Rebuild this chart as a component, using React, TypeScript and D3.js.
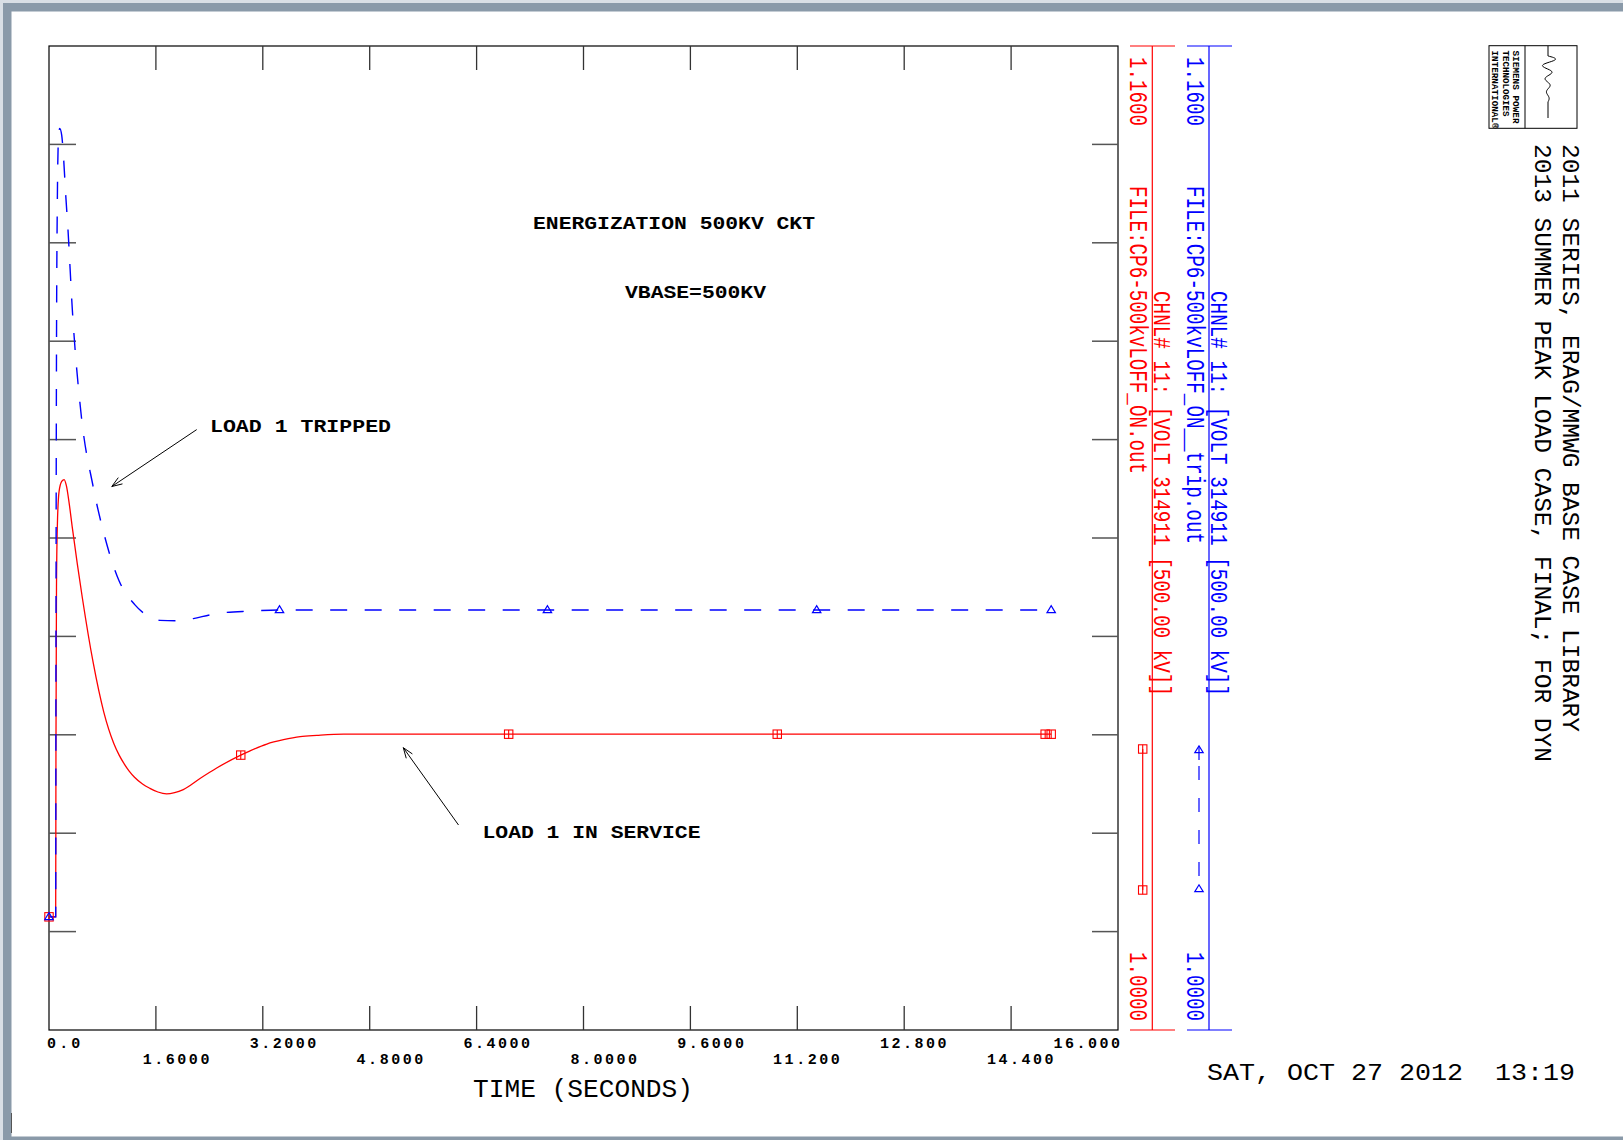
import React from "react";
import * as d3 from "d3";

// ---- data (time in seconds, voltage in pu) ----
const TIME_SERVICE = [0, 0.1, 0.104, 0.112, 0.125, 0.15, 0.19, 0.227, 0.26, 0.3, 0.35, 0.5, 0.66, 0.82, 0.97, 1.05, 1.13, 1.2, 1.28, 1.4, 1.51, 1.63, 1.76, 1.88, 2.01, 2.26, 2.51, 2.87, 3.01, 3.26, 3.51, 3.76, 4.01, 4.41, 5.0, 15.0];
const VOLT_SERVICE = [1.0184, 1.0184, 1.045, 1.072, 1.082, 1.0875, 1.0892, 1.0895, 1.0885, 1.0858, 1.0816, 1.0702, 1.0598, 1.0517, 1.0466, 1.0447, 1.0432, 1.0421, 1.0411, 1.04, 1.0393, 1.0387, 1.0384, 1.0386, 1.0391, 1.0409, 1.0426, 1.0447, 1.0454, 1.0465, 1.0472, 1.0477, 1.0479, 1.0481, 1.0481, 1.0481];
const TIME_TRIPPED = [0, 0.1, 0.104, 0.112, 0.125, 0.14, 0.16, 0.19, 0.22, 0.25, 0.28, 0.35, 0.48, 0.66, 0.82, 1.05, 1.28, 1.5, 1.66, 1.89, 2.16, 2.41, 2.66, 3.0, 3.44, 4.0, 15.0];
const VOLT_TRIPPED = [1.0184, 1.0184, 1.06, 1.11, 1.135, 1.1445, 1.1466, 1.1455, 1.1415, 1.1358, 1.1309, 1.117, 1.1002, 1.0884, 1.0808, 1.073, 1.0692, 1.0672, 1.0666, 1.06655, 1.0669, 1.0675, 1.0679, 1.0681, 1.0683, 1.0683, 1.0683];
const MARK_T_SERVICE = [0, 2.87, 6.88, 10.9, 14.91, 15.0];
const MARK_T_TRIPPED = [0, 3.45, 7.46, 11.49, 15.0];

const X_TICKS = [0, 1.6, 3.2, 4.8, 6.4, 8.0, 9.6, 11.2, 12.8, 14.4, 16.0];
const X_TICK_LABELS = ["0.0", "1.6000", "3.2000", "4.8000", "6.4000", "8.0000", "9.6000", "11.200", "12.800", "14.400", "16.000"];
const Y_TICKS = [1.016, 1.032, 1.048, 1.064, 1.08, 1.096, 1.112, 1.128, 1.144];
const Y_MIN_LABEL = "1.0000";
const Y_MAX_LABEL = "1.1600";

const RED = "#ff0000";
const BLUE = "#0000ff";
const FONT = "'Liberation Mono', 'DejaVu Sans Mono', monospace";

const W = 1623;
const H = 1140;
const PL = 49, PR = 1118, PT = 46, PB = 1030;

const x = d3.scaleLinear().domain([0, 16]).range([PL, PR]);
const y = d3.scaleLinear().domain([1.0, 1.16]).range([PB, PT]);

function interp(ts: number[], vs: number[], t: number) {
  const i = d3.bisectLeft(ts, t);
  if (i <= 0) return vs[0];
  if (i >= ts.length) return vs[vs.length - 1];
  const t0 = ts[i - 1], t1 = ts[i];
  return vs[i - 1] + ((vs[i] - vs[i - 1]) * (t - t0)) / (t1 - t0);
}

const line = d3
  .line<[number, number]>()
  .x((d) => x(d[0]))
  .y((d) => y(d[1]))
  .curve(d3.curveMonotoneX);

function Square({ cx, cy, color }: { cx: number; cy: number; color: string }) {
  const s = 4.2;
  return (
    <g stroke={color} strokeWidth={1.1} fill="none">
      <rect x={cx - s} y={cy - s} width={2 * s} height={2 * s} />
      <line x1={cx} y1={cy - s} x2={cx} y2={cy + s} />
    </g>
  );
}

function Tri({ cx, cy, color }: { cx: number; cy: number; color: string }) {
  const p = `M${cx - 4.2},${cy + 2.7}L${cx + 4.2},${cy + 2.7}L${cx},${cy - 4.2}Z`;
  return <path d={p} stroke={color} strokeWidth={1.2} fill="none" />;
}

function Arrow({ x1, y1, x2, y2 }: { x1: number; y1: number; x2: number; y2: number }) {
  const ang = Math.atan2(y1 - y2, x1 - x2);
  const L = 11;
  const a1 = ang + 0.35, a2 = ang - 0.35;
  return (
    <g stroke="#000" strokeWidth={1} fill="none">
      <line x1={x1} y1={y1} x2={x2} y2={y2} />
      <line x1={x2} y1={y2} x2={x2 + L * Math.cos(a1)} y2={y2 + L * Math.sin(a1)} />
      <line x1={x2} y1={y2} x2={x2 + L * Math.cos(a2)} y2={y2 + L * Math.sin(a2)} />
    </g>
  );
}

function VText({ x0, y0, text, len, size, color, weight }: { x0: number; y0: number; text: string; len: number; size: number; color: string; weight?: string }) {
  return (
    <text
      transform={`translate(${x0},${y0}) rotate(90)`}
      fontFamily={FONT}
      fontSize={size}
      fontWeight={weight || "normal"}
      fill={color}
      textLength={len}
      lengthAdjust="spacingAndGlyphs"
      style={{ whiteSpace: "pre" }}
    >
      {text}
    </text>
  );
}

function HText({ x0, y0, text, len, size, weight, adj }: { x0: number; y0: number; text: string; len: number; size: number; weight?: string; adj?: string }) {
  return (
    <text
      x={x0}
      y={y0}
      fontFamily={FONT}
      fontSize={size}
      fontWeight={weight || "normal"}
      fill="#000"
      textLength={len}
      lengthAdjust={adj || "spacingAndGlyphs"}
      style={{ whiteSpace: "pre" }}
    >
      {text}
    </text>
  );
}

export default function App() {
  const servicePts = TIME_SERVICE.map((t, i) => [t, VOLT_SERVICE[i]] as [number, number]);
  const trippedPts = TIME_TRIPPED.map((t, i) => [t, VOLT_TRIPPED[i]] as [number, number]);
  const ADV = 11.1;

  // logo wave
  const wave: [number, number][] = [];
  for (let i = 0; i <= 60; i++) {
    const u = i / 60;
    const yy = 56 + u * 46;
    const amp = 9 * Math.exp(-2.2 * u);
    wave.push([1548 + amp * Math.sin(u * Math.PI * 7), yy]);
  }
  const waveLine = d3.line<[number, number]>().x((d) => d[0]).y((d) => d[1]).curve(d3.curveBasis);

  return (
    <svg width={W} height={H} style={{ position: "absolute", left: 0, top: 0, background: "#fff" }}>
      <rect x={0} y={0} width={W} height={H} fill="#fff" />
      {/* frame */}
      <rect x={0} y={0} width={W} height={3} fill="#d9dfe5" />
      <rect x={0} y={0} width={3} height={H} fill="#d9dfe5" />
      <rect x={3} y={3} width={W - 3} height={8.5} fill="#8a9aa9" />
      <rect x={3} y={3} width={8.5} height={H - 3} fill="#8a9aa9" />
      <rect x={3} y={1136.5} width={W - 3} height={3.5} fill="#8a9aa9" />
      <line x1={11.5} y1={1113} x2={11.5} y2={1133} stroke="#555" strokeWidth={1} />

      {/* plot box */}
      <rect x={PL} y={PT} width={PR - PL} height={PB - PT} fill="none" stroke="#000" strokeWidth={1.2} />
      {X_TICKS.slice(1, -1).map((t) => (
        <g key={"xt" + t} stroke="#333" strokeWidth={1.3}>
          <line x1={x(t)} y1={PT} x2={x(t)} y2={PT + 24} />
          <line x1={x(t)} y1={PB} x2={x(t)} y2={PB - 24} />
        </g>
      ))}
      {Y_TICKS.map((v) => (
        <g key={"yt" + v} stroke="#555" strokeWidth={1.5}>
          <line x1={PL} y1={y(v)} x2={PL + 27} y2={y(v)} />
          <line x1={PR} y1={y(v)} x2={PR - 26} y2={y(v)} />
        </g>
      ))}

      {/* x tick labels */}
      {X_TICK_LABELS.map((s, i) => {
        const d = s.indexOf(".");
        let sx = x(X_TICKS[i]) - 2 - d * ADV;
        if (i === 0) sx = 47;
        if (i === X_TICK_LABELS.length - 1) sx = PR - s.length * ADV + 2;
        const by = i % 2 === 0 ? 1047.5 : 1064;
        return (
          <text key={"xl" + i} x={sx} y={by} fontFamily={FONT} fontSize={15} fontWeight="bold" fill="#000" textLength={s.length * ADV} lengthAdjust="spacing">
            {s}
          </text>
        );
      })}
      <HText x0={473} y0={1097} text="TIME (SECONDS)" len={220} size={26} />

      {/* curves */}
      <path d={line(servicePts) || ""} fill="none" stroke={RED} strokeWidth={1.3} />
      <path d={line(trippedPts) || ""} fill="none" stroke={BLUE} strokeWidth={1.4} strokeDasharray="17 17.5" />
      {MARK_T_SERVICE.map((t, i) => (
        <Square key={"ms" + i} cx={x(t)} cy={y(interp(TIME_SERVICE, VOLT_SERVICE, t))} color={RED} />
      ))}
      {MARK_T_TRIPPED.map((t, i) => (
        <Tri key={"mt" + i} cx={x(t)} cy={y(interp(TIME_TRIPPED, VOLT_TRIPPED, t))} color={BLUE} />
      ))}

      {/* annotations */}
      <HText x0={533} y0={229} text="ENERGIZATION 500KV CKT" len={282} size={18} weight="bold" />
      <HText x0={625} y0={298} text="VBASE=500KV" len={141} size={18} weight="bold" />
      <HText x0={210} y0={431.5} text="LOAD 1 TRIPPED" len={181} size={18} weight="bold" />
      <HText x0={482.5} y0={838.4} text="LOAD 1 IN SERVICE" len={218} size={18} weight="bold" />
      <Arrow x1={196.7} y1={429.6} x2={111.8} y2={486.5} />
      <Arrow x1={458.5} y1={825} x2={403.3} y2={747.7} />

      {/* red channel axis */}
      <line x1={1152.3} y1={PT} x2={1152.3} y2={PB} stroke={RED} strokeWidth={1.2} />
      <line x1={1130} y1={PT} x2={1175} y2={PT} stroke={RED} strokeWidth={1.2} />
      <line x1={1130} y1={PB} x2={1175} y2={PB} stroke={RED} strokeWidth={1.2} />
      <VText x0={1130} y0={57} text={Y_MAX_LABEL} len={69} size={25} color={RED} />
      <VText x0={1130} y0={186} text="FILE:CP6-500kvLOFF_ON.out" len={288} size={25} color={RED} />
      <VText x0={1153.5} y0={291} text="CHNL# 11: [VOLT 314911 [500.00 kV]]" len={405} size={23} color={RED} />
      <VText x0={1130} y0={952} text={Y_MIN_LABEL} len={69} size={25} color={RED} />
      <line x1={1142.7} y1={749} x2={1142.7} y2={890} stroke={RED} strokeWidth={1.2} />
      <Square cx={1142.7} cy={749} color={RED} />
      <Square cx={1142.7} cy={890} color={RED} />

      {/* blue channel axis */}
      <line x1={1209} y1={PT} x2={1209} y2={PB} stroke={BLUE} strokeWidth={1.2} />
      <line x1={1187} y1={PT} x2={1232} y2={PT} stroke={BLUE} strokeWidth={1.2} />
      <line x1={1187} y1={PB} x2={1232} y2={PB} stroke={BLUE} strokeWidth={1.2} />
      <VText x0={1187} y0={57} text={Y_MAX_LABEL} len={69} size={25} color={BLUE} />
      <VText x0={1187} y0={186} text="FILE:CP6-500kvLOFF_ON__trip.out" len={358} size={25} color={BLUE} />
      <VText x0={1210.5} y0={291} text="CHNL# 11: [VOLT 314911 [500.00 kV]]" len={405} size={23} color={BLUE} />
      <VText x0={1187} y0={952} text={Y_MIN_LABEL} len={69} size={25} color={BLUE} />
      <line x1={1199} y1={752} x2={1199} y2={888} stroke={BLUE} strokeWidth={1.2} strokeDasharray="14 18" strokeDashoffset={-14} />
      <Tri cx={1199} cy={750} color={BLUE} />
      <line x1={1199} y1={746} x2={1199} y2={760} stroke={BLUE} strokeWidth={1.2} />
      <Tri cx={1199} cy={889} color={BLUE} />

      {/* title */}
      <VText x0={1563} y0={144} text="2011 SERIES, ERAG/MMWG BASE CASE LIBRARY" len={588} size={23} color="#000" />
      <VText x0={1535} y0={144} text="2013 SUMMER PEAK LOAD CASE, FINAL; FOR DYN" len={618} size={23} color="#000" />

      {/* logo */}
      <rect x={1489} y={45.7} width={88} height={82.6} fill="none" stroke="#000" strokeWidth={1} />
      <line x1={1525} y1={45.7} x2={1525} y2={128.3} stroke="#000" strokeWidth={1} />
      <VText x0={1513} y0={50.5} text="SIEMENS POWER" len={73} size={9} color="#000" weight="bold" />
      <VText x0={1503} y0={50.5} text="TECHNOLOGIES" len={66} size={9} color="#000" weight="bold" />
      <VText x0={1492} y0={50.5} text="INTERNATIONAL®" len={78} size={9} color="#000" weight="bold" />
      <line x1={1548} y1={46} x2={1548} y2={56} stroke="#000" strokeWidth={1} />
      <path d={waveLine(wave) || ""} fill="none" stroke="#000" strokeWidth={1} />
      <line x1={1548} y1={102} x2={1548} y2={118} stroke="#000" strokeWidth={1} />

      {/* date */}
      <HText x0={1207} y0={1080} text={"SAT, OCT 27 2012\u00A0\u00A013:19"} len={368} size={24} />
    </svg>
  );
}
